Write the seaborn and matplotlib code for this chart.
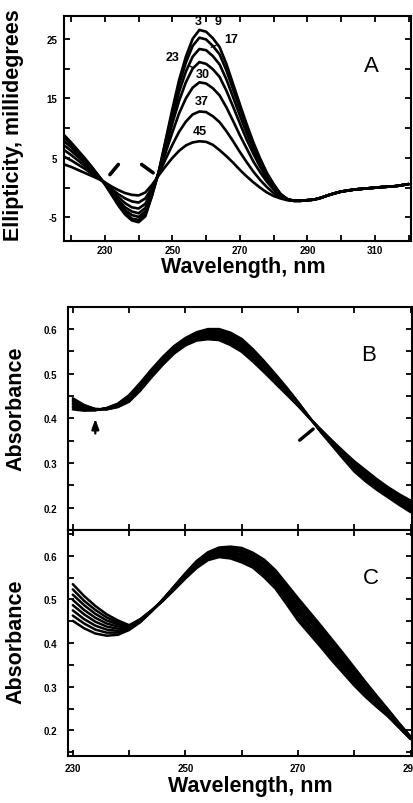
import matplotlib
matplotlib.use("Agg")
import matplotlib.pyplot as plt
import numpy as np
import pandas as pd
import seaborn as sns

# ---------------- data: panel A (CD spectra) ----------------
WL_A = [218, 220, 222, 224, 226, 228, 230, 232, 234, 236, 238, 240, 242, 244,
        246, 248, 250, 252, 254, 256, 258, 260, 262, 264, 266, 268, 270, 272,
        274, 276, 278, 280, 282, 284, 286, 288, 290,
        292, 294, 296, 298, 300, 304, 308, 312, 316, 320]
TAIL_A = [-2.0, -1.7, -1.3, -0.95, -0.65, -0.3, -0.1, 0.1, 0.25, 0.6]

CD_3 = [8.8, 7.6, 6.3, 5.0, 3.6, 2.1, 0.6, -1.2, -3.0, -4.5, -5.5, -5.8, -4.8, -1.3,
        2.8, 8.0, 13.2, 18.1, 22.0, 25.0, 26.5, 26.2, 25.1, 23.6, 20.8, 17.4, 14.0, 10.7,
        7.6, 4.9, 2.5, 0.6, -1.0, -1.9, -2.2, -2.2, -2.1] + TAIL_A
CD_9 = [8.4, 7.3, 6.0, 4.8, 3.5, 2.1, 0.6, -1.1, -2.8, -4.2, -5.2, -5.4, -4.5, -1.2,
        2.7, 7.7, 12.6, 17.3, 21.0, 23.8, 25.2, 24.9, 23.8, 22.4, 19.7, 16.5, 13.2, 10.1,
        7.1, 4.6, 2.3, 0.5, -1.1, -1.9, -2.2, -2.2, -2.1] + TAIL_A
CD_17 = [7.8, 6.8, 5.6, 4.5, 3.3, 2.0, 0.7, -0.9, -2.5, -3.8, -4.6, -4.9, -4.0, -0.9,
         2.7, 7.3, 11.8, 16.1, 19.5, 22.0, 23.3, 23.1, 22.1, 20.7, 18.2, 15.2, 12.1, 9.2,
         6.5, 4.1, 1.9, 0.3, -1.1, -1.9, -2.2, -2.2, -2.1] + TAIL_A
CD_23 = [7.1, 6.2, 5.2, 4.2, 3.1, 1.9, 0.7, -0.7, -2.1, -3.3, -4.0, -4.3, -3.4, -0.7,
         2.6, 6.7, 10.8, 14.6, 17.7, 20.0, 21.1, 20.8, 19.9, 18.6, 16.3, 13.6, 10.8, 8.1,
         5.7, 3.5, 1.5, 0.0, -1.2, -2.0, -2.2, -2.2, -2.1] + TAIL_A
CD_30 = [6.3, 5.5, 4.6, 3.7, 2.8, 1.8, 0.8, -0.5, -1.6, -2.6, -3.3, -3.5, -2.7, -0.4,
         2.5, 5.9, 9.3, 12.5, 15.0, 16.8, 17.7, 17.5, 16.7, 15.5, 13.5, 11.2, 8.8, 6.6,
         4.4, 2.6, 1.0, -0.3, -1.4, -2.0, -2.2, -2.2, -2.1] + TAIL_A
CD_37 = [5.2, 4.6, 3.9, 3.2, 2.4, 1.7, 0.8, -0.2, -1.1, -1.8, -2.3, -2.5, -1.8, 0.0,
         2.3, 4.8, 7.2, 9.4, 11.1, 12.3, 12.8, 12.7, 12.0, 11.0, 9.5, 7.8, 6.0, 4.3,
         2.7, 1.3, 0.1, -0.9, -1.6, -2.0, -2.2, -2.2, -2.1] + TAIL_A
CD_45 = [3.9, 3.5, 3.0, 2.5, 2.0, 1.5, 0.9, 0.2, -0.4, -0.9, -1.2, -1.3, -0.8, 0.5,
         2.1, 3.6, 5.0, 6.2, 7.1, 7.6, 7.8, 7.7, 7.2, 6.3, 5.3, 4.2, 3.0, 1.9,
         0.9, 0.0, -0.8, -1.4, -1.8, -2.1, -2.2, -2.2, -2.1] + TAIL_A
CD_LABELS = ["3", "9", "17", "23", "30", "37", "45"]

# ---------------- data: panels B and C (absorbance) ----------------
WL_BC = [230, 232, 234, 236, 238, 240, 242, 244, 246, 248, 250, 252, 254, 256, 258, 260,
         262, 264, 266, 268, 270, 272, 274, 276, 278, 280, 282, 284, 286, 288, 290]

B_0 = [0.445, 0.430, 0.421, 0.420, 0.425, 0.437, 0.462, 0.492, 0.520, 0.545, 0.563, 0.574, 0.577, 0.575, 0.564, 0.549,
       0.527, 0.503, 0.478, 0.453, 0.428, 0.401, 0.376, 0.351, 0.327, 0.304, 0.284, 0.264, 0.246, 0.230, 0.216]
B_1 = [0.441, 0.428, 0.421, 0.420, 0.426, 0.439, 0.465, 0.495, 0.523, 0.547, 0.565, 0.577, 0.580, 0.579, 0.568, 0.553,
       0.531, 0.507, 0.481, 0.455, 0.429, 0.401, 0.375, 0.349, 0.325, 0.301, 0.280, 0.261, 0.243, 0.227, 0.212]
B_2 = [0.438, 0.426, 0.420, 0.421, 0.427, 0.441, 0.467, 0.497, 0.525, 0.550, 0.568, 0.579, 0.584, 0.582, 0.572, 0.557,
       0.535, 0.510, 0.484, 0.458, 0.431, 0.402, 0.374, 0.348, 0.322, 0.297, 0.277, 0.257, 0.239, 0.223, 0.209]
B_3 = [0.434, 0.424, 0.420, 0.421, 0.428, 0.443, 0.470, 0.500, 0.528, 0.552, 0.570, 0.582, 0.587, 0.586, 0.576, 0.561,
       0.539, 0.514, 0.487, 0.460, 0.432, 0.402, 0.373, 0.346, 0.320, 0.294, 0.273, 0.254, 0.236, 0.220, 0.205]
B_4 = [0.431, 0.423, 0.419, 0.422, 0.430, 0.446, 0.472, 0.502, 0.530, 0.555, 0.573, 0.585, 0.590, 0.589, 0.580, 0.566,
       0.543, 0.517, 0.490, 0.462, 0.433, 0.402, 0.373, 0.345, 0.317, 0.291, 0.270, 0.250, 0.233, 0.216, 0.201]
B_5 = [0.427, 0.421, 0.419, 0.422, 0.431, 0.448, 0.475, 0.505, 0.533, 0.557, 0.575, 0.588, 0.593, 0.593, 0.584, 0.570,
       0.547, 0.521, 0.493, 0.464, 0.434, 0.402, 0.372, 0.343, 0.315, 0.288, 0.266, 0.247, 0.230, 0.213, 0.197]
B_6 = [0.424, 0.419, 0.418, 0.423, 0.432, 0.450, 0.477, 0.507, 0.535, 0.560, 0.578, 0.590, 0.597, 0.596, 0.588, 0.574,
       0.551, 0.524, 0.496, 0.467, 0.436, 0.403, 0.371, 0.342, 0.312, 0.284, 0.263, 0.243, 0.226, 0.209, 0.194]
B_7 = [0.420, 0.417, 0.418, 0.423, 0.433, 0.452, 0.480, 0.510, 0.538, 0.562, 0.580, 0.593, 0.600, 0.600, 0.592, 0.578,
       0.555, 0.528, 0.499, 0.469, 0.437, 0.403, 0.370, 0.340, 0.310, 0.281, 0.259, 0.240, 0.223, 0.206, 0.190]

C_0 = [0.535, 0.508, 0.485, 0.466, 0.452, 0.441, 0.455, 0.475, 0.497, 0.522, 0.548, 0.572, 0.590, 0.597, 0.594, 0.585,
       0.573, 0.551, 0.525, 0.489, 0.452, 0.422, 0.392, 0.361, 0.332, 0.303, 0.277, 0.254, 0.232, 0.206, 0.180]
C_1 = [0.523, 0.497, 0.476, 0.459, 0.447, 0.439, 0.454, 0.475, 0.497, 0.523, 0.550, 0.574, 0.593, 0.600, 0.598, 0.590,
       0.578, 0.557, 0.531, 0.496, 0.459, 0.429, 0.399, 0.368, 0.338, 0.309, 0.282, 0.258, 0.234, 0.207, 0.181]
C_2 = [0.511, 0.487, 0.467, 0.452, 0.443, 0.438, 0.453, 0.474, 0.498, 0.524, 0.551, 0.577, 0.595, 0.603, 0.602, 0.594,
       0.583, 0.562, 0.537, 0.502, 0.467, 0.436, 0.406, 0.375, 0.345, 0.315, 0.287, 0.261, 0.237, 0.209, 0.182]
C_3 = [0.499, 0.476, 0.458, 0.445, 0.438, 0.436, 0.452, 0.474, 0.498, 0.525, 0.553, 0.579, 0.598, 0.606, 0.606, 0.599,
       0.588, 0.568, 0.543, 0.509, 0.474, 0.443, 0.413, 0.382, 0.351, 0.321, 0.292, 0.265, 0.239, 0.210, 0.183]
C_4 = [0.487, 0.466, 0.449, 0.438, 0.433, 0.435, 0.451, 0.474, 0.499, 0.527, 0.555, 0.581, 0.600, 0.610, 0.609, 0.604,
       0.592, 0.574, 0.549, 0.515, 0.481, 0.451, 0.420, 0.388, 0.358, 0.326, 0.296, 0.268, 0.241, 0.212, 0.183]
C_5 = [0.475, 0.455, 0.440, 0.431, 0.428, 0.433, 0.450, 0.474, 0.499, 0.528, 0.557, 0.583, 0.603, 0.613, 0.613, 0.609,
       0.597, 0.580, 0.555, 0.522, 0.488, 0.458, 0.427, 0.395, 0.364, 0.332, 0.301, 0.272, 0.243, 0.213, 0.184]
C_6 = [0.463, 0.445, 0.431, 0.424, 0.424, 0.432, 0.449, 0.473, 0.500, 0.529, 0.558, 0.586, 0.605, 0.616, 0.617, 0.613,
       0.602, 0.585, 0.561, 0.528, 0.496, 0.465, 0.434, 0.402, 0.371, 0.338, 0.306, 0.275, 0.246, 0.215, 0.185]
C_7 = [0.451, 0.434, 0.422, 0.417, 0.419, 0.430, 0.448, 0.473, 0.500, 0.530, 0.560, 0.588, 0.608, 0.619, 0.621, 0.618,
       0.607, 0.591, 0.567, 0.535, 0.503, 0.472, 0.441, 0.409, 0.377, 0.344, 0.311, 0.279, 0.248, 0.216, 0.186]

# ticks
A_XTICKS = [230, 250, 270, 290, 310]
A_XMINOR = [220, 240, 260, 280, 300, 320]
A_YTICKS = [-5, 5, 15, 25]
A_YMINOR = [0, 10, 20]
BC_XTICKS = [230, 250, 270, 290]
BC_XMINOR = [240, 260, 280]
BC_YTICKS = [0.2, 0.3, 0.4, 0.5, 0.6]
BC_YMINOR = [0.15, 0.25, 0.35, 0.45, 0.55, 0.65]


def long_df(wl, curves):
    rows = []
    for name, vals in curves.items():
        for w, v in zip(wl, vals):
            rows.append({"wl": w, "val": v, "curve": name})
    return pd.DataFrame(rows)


sns.set_theme(style="ticks")
plt.rcParams["font.family"] = ["Liberation Sans", "DejaVu Sans"]
plt.rcParams.update({
    "axes.linewidth": 1.5,
    "axes.edgecolor": "black",
    "axes.labelcolor": "black",
    "text.color": "black",
    "xtick.color": "black",
    "ytick.color": "black",
})

fig = plt.figure(figsize=(4.14, 8.04), dpi=100)
axA = fig.add_axes([0.1546, 0.6994, 0.8374, 0.2799])
axB = fig.add_axes([0.165, 0.3396, 0.830, 0.2777])
axC = fig.add_axes([0.165, 0.0588, 0.830, 0.2807])

dfA = long_df(WL_A, dict(zip(CD_LABELS, [CD_3, CD_9, CD_17, CD_23, CD_30, CD_37, CD_45])))
dfB = long_df(WL_BC, {f"b{i}": c for i, c in enumerate([B_0, B_1, B_2, B_3, B_4, B_5, B_6, B_7])})
dfC = long_df(WL_BC, {f"c{i}": c for i, c in enumerate([C_0, C_1, C_2, C_3, C_4, C_5, C_6, C_7])})

sns.lineplot(data=dfA, x="wl", y="val", units="curve", estimator=None,
             color="black", linewidth=1.9, ax=axA, legend=False)
sns.lineplot(data=dfB, x="wl", y="val", units="curve", estimator=None,
             color="black", linewidth=1.7, ax=axB, legend=False)
sns.lineplot(data=dfC, x="wl", y="val", units="curve", estimator=None,
             color="black", linewidth=1.8, ax=axC, legend=False)

bold = dict(fontweight="bold")

# ---- panel A axes ----
axA.set_xlim(217.9, 320.6)
axA.set_ylim(-8.9, 28.9)
axA.set_xticks(A_XTICKS)
axA.set_xticklabels([str(t) for t in A_XTICKS], fontsize=7, **bold)
axA.set_xticks(A_XMINOR, minor=True)
axA.set_yticks(A_YTICKS)
axA.set_yticklabels([str(t) for t in A_YTICKS], fontsize=7, **bold)
axA.set_yticks(A_YMINOR, minor=True)
axA.tick_params(which="both", direction="in", top=True, right=True,
                length=4, width=1.3, colors="black")
axA.tick_params(axis="x", which="major", pad=3)
axA.tick_params(axis="y", which="major", pad=5)
axA.set_xlabel("Wavelength, nm", fontsize=15.5, **bold)
axA.xaxis.set_label_coords(0.516, -0.07)
axA.set_ylabel("Ellipticity, millidegrees", fontsize=15.5, **bold)
axA.yaxis.set_label_coords(-0.115, 0.52)
axA.text(309, 20.6, "A", fontsize=16, ha="center", va="center")

# curve labels
lab_kw = dict(fontsize=9, fontweight="bold", ha="center", va="center")
axA.text(257.6, 28.0, CD_LABELS[0], **lab_kw)
axA.text(263.6, 28.0, CD_LABELS[1], **lab_kw)
axA.annotate(CD_LABELS[2], xy=(261.5, 23.6), xytext=(267.5, 24.9),
             arrowprops=dict(arrowstyle="-", lw=1.0, color="black",
                             shrinkA=4, shrinkB=0), **lab_kw)
axA.annotate(CD_LABELS[3], xy=(256.0, 20.2), xytext=(250.0, 21.9),
             arrowprops=dict(arrowstyle="-", lw=1.0, color="black",
                             shrinkA=5, shrinkB=0), **lab_kw)
axA.text(259.1, 19.1, CD_LABELS[4], **lab_kw)
axA.text(258.6, 14.5, CD_LABELS[5], **lab_kw)
axA.text(258.0, 9.5, CD_LABELS[6], **lab_kw)

# isosbestic marks
for (x0, y0, x1, y1) in [(234.0, 3.9, 231.5, 2.2), (240.9, 3.9, 244.3, 2.5)]:
    axA.annotate("", xy=(x1, y1), xytext=(x0, y0),
                 arrowprops=dict(arrowstyle="-", lw=2.6, color="black",
                                 shrinkA=0, shrinkB=0))

# ---- panels B, C ----
for ax, ylim in [(axB, (0.1625, 0.628)), (axC, (0.142, 0.659))]:
    ax.set_xlim(229.2, 290.25)
    ax.set_ylim(*ylim)
    ax.set_xticks(BC_XTICKS)
    ax.set_xticklabels([str(t) for t in BC_XTICKS], fontsize=7, **bold)
    ax.set_xticks(BC_XMINOR, minor=True)
    ax.set_yticks(BC_YTICKS)
    ax.set_yticklabels([f"{t:.1f}" for t in BC_YTICKS], fontsize=7, **bold)
    ax.set_yticks(BC_YMINOR, minor=True)
    ax.tick_params(which="both", direction="in", top=True, right=True,
                   length=4, width=1.3, colors="black")
    ax.tick_params(axis="y", which="major", pad=8)
    ax.tick_params(axis="x", which="major", pad=5)
    ax.set_ylabel("Absorbance", fontsize=15.5, **bold)
    ax.set_xlabel("")

axB.tick_params(labelbottom=False)
axB.yaxis.set_label_coords(-0.123, 0.546)
axC.yaxis.set_label_coords(-0.123, 0.508)
axC.set_xlabel("Wavelength, nm", fontsize=15.5, **bold)
axC.xaxis.set_label_coords(0.53, -0.085)

axB.text(282.6, 0.542, "B", fontsize=16, ha="center", va="center")
axC.text(282.9, 0.551, "C", fontsize=16, ha="center", va="center")

axB.annotate("", xy=(234.0, 0.399), xytext=(234.0, 0.366),
             arrowprops=dict(arrowstyle="-|>,head_length=0.5,head_width=0.18",
                             lw=1.6, color="black", shrinkA=0, shrinkB=0))
axB.annotate("", xy=(272.7, 0.376), xytext=(270.3, 0.351),
             arrowprops=dict(arrowstyle="-", lw=2.4, color="black",
                             shrinkA=0, shrinkB=0))

fig.savefig("out.png", dpi=100)
